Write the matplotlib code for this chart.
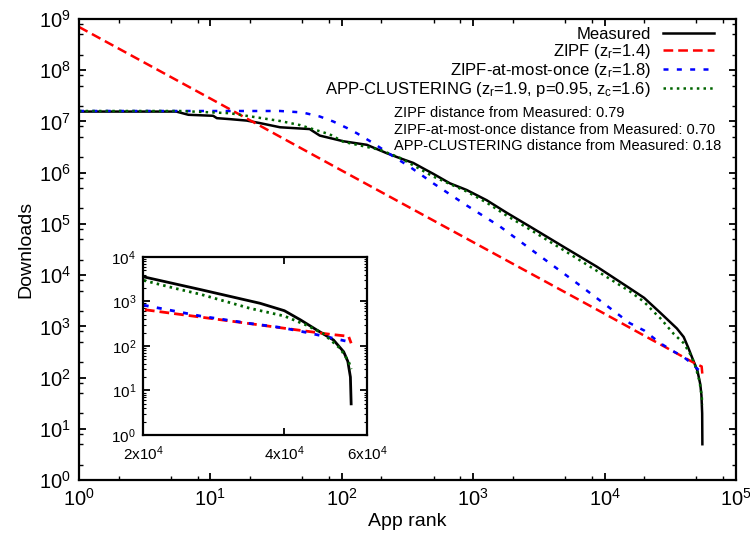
import matplotlib
matplotlib.use("Agg")
import matplotlib.pyplot as plt
from matplotlib.ticker import LogLocator, NullLocator, NullFormatter, FixedLocator

plt.rcParams['font.family'] = ['Liberation Sans', 'DejaVu Sans']
plt.rcParams['mathtext.fontset'] = 'custom'
plt.rcParams['mathtext.rm'] = 'Liberation Sans'
plt.rcParams['mathtext.it'] = 'Liberation Sans:italic'
plt.rcParams['lines.scale_dashes'] = False

# values
rank_meas = [1, 5.5, 6.8, 10.5, 11.2, 14.1, 18.9, 23.8, 33.9, 57, 68, 103, 155, 220, 277,
             350, 420, 497, 665, 891, 1267, 1800, 2700, 4850, 8700, 15600, 20000, 26500,
             35500, 40000, 43300, 46900, 50900, 53500, 54600, 55300, 55500]
dl_meas = [1.56e7, 1.56e7, 1.35e7, 1.29e7, 1.16e7, 1.11e7, 1.04e7, 9.3e6, 7.7e6, 7.1e6, 5.3e6,
           4.1e6, 3.5e6, 2.4e6, 1.92e6, 1.55e6, 1.2e6, 9.5e5, 6.2e5, 4.6e5, 2.9e5, 1.65e5,
           8.9e4, 3.6e4, 1.47e4, 5.5e3, 3.6e3, 1.85e3, 910, 620, 385, 228, 136, 74, 45, 20, 5]

rank_zipf = [1, 10, 100, 1000, 10000, 20000, 30000, 40000, 50000, 54800, 55500]
dl_zipf = [7.0e8, 2.8e7, 1.1e6, 4.4e4, 1.76e3, 660, 375, 250, 183, 165, 115]

rank_once = [1, 34, 50, 68, 86, 109, 130, 173, 207, 245, 330, 497, 891, 1600, 2700, 6670,
             15600, 20000, 26500, 33800, 39600, 44700, 54800, 55500]
dl_once = [1.6e7, 1.6e7, 1.5e7, 1.25e7, 1.0e7, 7.5e6, 5.9e6, 3.8e6, 2.8e6, 2.1e6, 1.3e6,
           6.2e5, 2.3e5, 8.9e4, 3.3e4, 6.0e3, 1150, 830, 470, 320, 257, 200, 125, 105]

rank_clus = [1, 5.9, 14, 34, 48, 81, 103, 195, 277, 497, 891, 1267, 1800, 2700, 4850, 15600,
             20000, 23500, 26500, 33800, 40000, 44700, 48400, 52600, 54800, 55500]
dl_clus = [1.6e7, 1.6e7, 1.45e7, 1.02e7, 8.5e6, 5.6e6, 4.0e6, 2.8e6, 1.95e6, 8.4e5, 4.3e5,
           2.6e5, 1.45e5, 7.8e4, 3.1e4, 4.8e3, 3.0e3, 1.95e3, 1450, 700, 470, 290, 190, 88,
           45, 30]

labels = ['Measured',
          r'ZIPF (z$_\mathregular{r}$=1.4)',
          r'ZIPF-at-most-once (z$_\mathregular{r}$=1.8)',
          r'APP-CLUSTERING (z$_\mathregular{r}$=1.9, p=0.95, z$_\mathregular{c}$=1.6)']
notes = ['ZIPF distance from Measured: 0.79',
         'ZIPF-at-most-once distance from Measured: 0.70',
         'APP-CLUSTERING distance from Measured: 0.18']


def draw(ax, lw):
    ax.plot(rank_meas, dl_meas, color='black', lw=lw, label=labels[0])
    ax.plot(rank_zipf, dl_zipf, color='#ff0000', lw=lw, dashes=(7, 3.6), label=labels[1])
    ax.plot(rank_once, dl_once, color='#0000ff', lw=lw, dashes=(3.6, 6), label=labels[2])
    ax.plot(rank_clus, dl_clus, color='#006400', lw=lw, dashes=(1.8, 3), label=labels[3])


fig = plt.figure(figsize=(7.5, 5.37), dpi=100)
ax = fig.add_axes([0.1053, 0.1061, 0.876, 0.8585])
draw(ax, 1.8)
ax.set_xscale('log')
ax.set_yscale('log')
ax.set_xlim(1, 1e5)
ax.set_ylim(1, 1e9)
for a in (ax.xaxis, ax.yaxis):
    a.set_major_locator(LogLocator(base=10, numticks=20))
    a.set_minor_locator(LogLocator(base=10, subs=(2, 5, 8), numticks=20))
    a.set_minor_formatter(NullFormatter())
ax.tick_params(which='both', direction='in', top=True, right=True, labelsize=14.5, pad=6)
ax.tick_params(which='major', length=5, width=1.3)
ax.tick_params(which='minor', length=3, width=1)
for s in ax.spines.values():
    s.set_linewidth(1.6)
ax.set_xlabel('App rank', fontsize=14, labelpad=2)
ax.set_ylabel('Downloads', fontsize=14, labelpad=3)

ax.legend(loc='upper right', bbox_to_anchor=(0.967, 0.982), frameon=False,
          markerfirst=False, fontsize=12, handlelength=3.1, handletextpad=0.7,
          labelspacing=0.0, borderpad=0, borderaxespad=0)

for i, t in enumerate(notes):
    fig.text(394 / 750, 1 - (113 + 16.5 * i) / 537, t, fontsize=10.5, va='center', ha='left')

# inset
ins = fig.add_axes([0.1907, 0.19, 0.2987, 0.3315])
draw(ins, 2.0)
ins.set_xscale('log')
ins.set_yscale('log')
ins.set_xlim(2e4, 6e4)
ins.set_ylim(1, 1e4)
ins.xaxis.set_major_locator(FixedLocator([2e4, 4e4, 6e4]))
ins.xaxis.set_minor_locator(NullLocator())
ins.set_xticklabels([r'2x10$^\mathregular{4}$', r'4x10$^\mathregular{4}$', r'6x10$^\mathregular{4}$'])
ins.yaxis.set_major_locator(LogLocator(base=10, numticks=10))
ins.yaxis.set_minor_locator(LogLocator(base=10, subs=range(2, 10), numticks=10))
ins.yaxis.set_minor_formatter(NullFormatter())
ins.tick_params(which='both', direction='in', top=True, right=True, labelsize=11, pad=5)
ins.tick_params(axis='x', pad=7)
ins.tick_params(which='major', length=5, width=1.3)
ins.tick_params(which='minor', length=2.5, width=0.8)
for s in ins.spines.values():
    s.set_linewidth(1.6)

fig.savefig('out.png', dpi=100)
